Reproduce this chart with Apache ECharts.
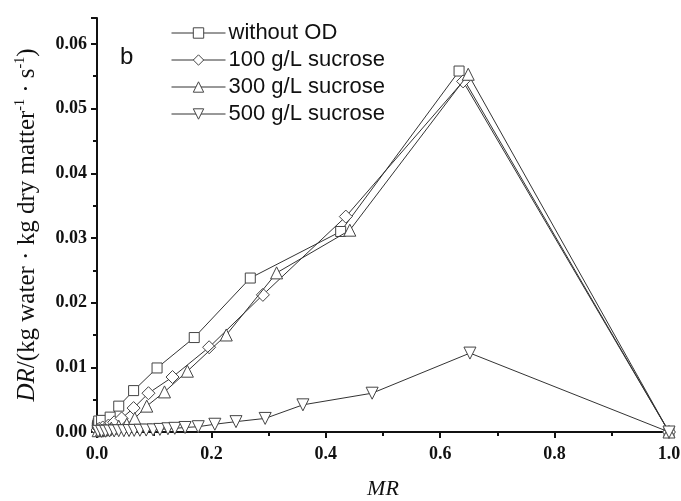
<!DOCTYPE html>
<html>
<head>
<meta charset="utf-8">
<script src="https://cdn.jsdelivr.net/npm/echarts@6/dist/echarts.min.js"></script>
<style>html,body{margin:0;padding:0;background:#fff;}#c{width:681px;height:501px;}</style>
</head>
<body>
<div id="c"></div>
<script>
// ---- data ----
var seriesNames = ['without OD', '100 g/L sucrose', '300 g/L sucrose', '500 g/L sucrose'];

var mrWithoutOD = [0.0005, 0.001, 0.002, 0.003, 0.008, 0.023, 0.038, 0.064, 0.105, 0.170, 0.268, 0.426, 0.633, 1.0];
var drWithoutOD = [0.0007, 0.0010, 0.0013, 0.0017, 0.0018, 0.0023, 0.0040, 0.0064, 0.0099, 0.0146, 0.0238, 0.0310, 0.0558, 0.0];

var mr100 = [0.001, 0.004, 0.010, 0.020, 0.030, 0.043, 0.064, 0.090, 0.132, 0.196, 0.290, 0.435, 0.640, 1.0];
var dr100 = [0.0003, 0.0005, 0.0007, 0.0010, 0.0015, 0.0021, 0.0037, 0.0060, 0.0085, 0.0131, 0.0212, 0.0333, 0.0542, 0.0];

var mr300 = [0.002, 0.008, 0.015, 0.025, 0.038, 0.052, 0.066, 0.087, 0.118, 0.158, 0.226, 0.314, 0.442, 0.649, 1.0];
var dr300 = [0.0002, 0.0003, 0.0004, 0.0006, 0.0009, 0.0012, 0.0021, 0.0040, 0.0062, 0.0094, 0.0150, 0.0246, 0.0312, 0.0553, 0.0];

var mr500 = [0.002, 0.008, 0.015, 0.022, 0.030, 0.038, 0.047, 0.056, 0.065, 0.075, 0.086, 0.098, 0.110, 0.124, 0.136, 0.154, 0.177, 0.206, 0.243, 0.294, 0.360, 0.481, 0.652, 1.0];
var dr500 = [0.0001, 0.0001, 0.00012, 0.00015, 0.00016, 0.0002, 0.0002, 0.00022, 0.00025, 0.00027, 0.0003, 0.00033, 0.0004, 0.0005, 0.00057, 0.0007, 0.00082, 0.0012, 0.0016, 0.0021, 0.0042, 0.0060, 0.0122, 0.0];

var xTicks = {min: 0, max: 1.0, interval: 0.2};
var yTicks = {min: 0, max: 0.064, interval: 0.01};

function pairs(xs, ys) { return xs.map(function (x, i) { return [x, ys[i]]; }); }

var lineColor = '#333';
var markColor = '#444';
var symbols = [
  {symbol: 'rect', size: 10, rotate: 0},
  {symbol: 'diamond', size: 13, rotate: 0},
  {symbol: 'triangle', size: 12, rotate: 0},
  {symbol: 'triangle', size: 12, rotate: 180}
];
var datas = [pairs(mrWithoutOD, drWithoutOD), pairs(mr100, dr100), pairs(mr300, dr300), pairs(mr500, dr500)];

var series = seriesNames.map(function (n, i) {
  return {
    name: n, type: 'line', data: datas[i],
    symbol: symbols[i].symbol, symbolSize: symbols[i].size, symbolRotate: symbols[i].rotate,
    showAllSymbol: true,
    lineStyle: {color: lineColor, width: 1},
    itemStyle: {color: '#fff', borderColor: markColor, borderWidth: 1},
    emphasis: {disabled: true},
    animation: false,
    z: 2 + i
  };
});

var serif = '"Liberation Serif", "Times New Roman", serif';
var chart = echarts.init(document.getElementById('c'), null, {renderer: 'canvas'});
chart.setOption({
  backgroundColor: '#fff',
  animation: false,
  grid: {left: 97, right: 12, top: 18, bottom: 69, containLabel: false, outerBoundsMode: 'none'},
  legend: {
    orient: 'vertical', left: 166, top: 17,
    itemWidth: 54, itemHeight: 13, itemGap: 5,
    symbolRotate: 'inherit',
    lineStyle: {width: 1, color: lineColor},
    itemStyle: {color: '#fff', borderColor: markColor, borderWidth: 1},
    textStyle: {fontFamily: '"Liberation Sans", Arial, sans-serif', fontSize: 22, color: '#111', lineHeight: 22, padding: [0, 0, 0, -2]},
    data: seriesNames
  },
  graphic: [{
    type: 'text', left: 120, top: 45,
    style: {text: 'b', font: '24px "Liberation Sans", Arial, sans-serif', fill: '#111'}
  }],
  xAxis: {
    type: 'value', min: xTicks.min, max: xTicks.max, interval: xTicks.interval,
    name: 'MR', nameLocation: 'middle', nameGap: 46,
    nameTextStyle: {fontFamily: serif, fontStyle: 'italic', fontSize: 22, color: '#111'},
    axisLine: {show: true, onZero: false, lineStyle: {color: '#111', width: 2}},
    axisTick: {show: true, inside: false, length: 6, lineStyle: {color: '#111', width: 2}},
    minorTick: {show: true, splitNumber: 2, length: 4, lineStyle: {color: '#111', width: 2}},
    splitLine: {show: false},
    axisLabel: {fontFamily: serif, fontWeight: 'bold', fontSize: 18, color: '#111', margin: 13,
      formatter: function (v) { return v.toFixed(1); }}
  },
  yAxis: {
    type: 'value', min: yTicks.min, max: yTicks.max, interval: yTicks.interval,
    name: '{i|DR}{n|/(kg water · kg dry matter}{s|-1}{n| · s}{s|-1}{n|)}',
    nameLocation: 'middle', nameGap: 57, nameRotate: 90,
    nameTextStyle: {
      fontFamily: serif, fontSize: 25, color: '#111',
      rich: {
        i: {fontFamily: serif, fontStyle: 'italic', fontSize: 25, color: '#111', lineHeight: 27, verticalAlign: 'bottom'},
        n: {fontFamily: serif, fontSize: 25, color: '#111', lineHeight: 27, verticalAlign: 'bottom'},
        s: {fontFamily: serif, fontSize: 14, color: '#111', lineHeight: 27, verticalAlign: 'top'}
      }
    },
    axisLine: {show: true, lineStyle: {color: '#111', width: 2}},
    axisTick: {show: true, inside: false, length: 6, lineStyle: {color: '#111', width: 2}},
    minorTick: {show: true, splitNumber: 2, length: 4, lineStyle: {color: '#111', width: 2}},
    splitLine: {show: false},
    axisLabel: {fontFamily: serif, fontWeight: 'bold', fontSize: 18, color: '#111', margin: 10,
      showMaxLabel: false,
      formatter: function (v) { return v.toFixed(2); }}
  },
  series: series
});
</script>
</body>
</html>
